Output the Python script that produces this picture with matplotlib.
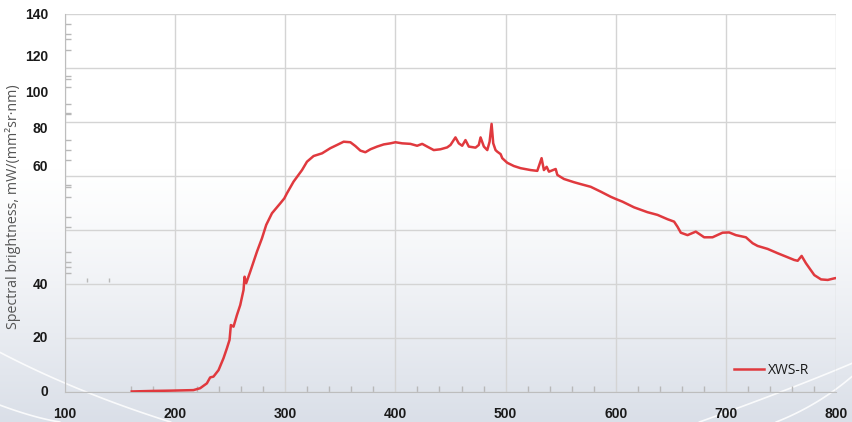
import numpy as np
import matplotlib.pyplot as plt
from matplotlib.transforms import blended_transform_factory

# spectrum (axis units: gridlines every 20)
wavelength = [160.6, 180, 195.5, 216.6, 222.7, 228.8, 231.8, 234.8, 239.4, 243.9,
              247, 249.4, 250.6, 253, 256.1, 259.1, 262.1, 263, 264.5, 268.2,
              274.3, 278.8, 282.7, 287.9, 295.5, 299.1, 301.5, 307.5, 315.2, 319.7,
              325.7, 333.4, 340.9, 347, 353, 359.1, 363.6, 368.2, 372.7, 377.3,
              383.4, 389.4, 395.5, 400, 406.1, 413.6, 419.7, 424.3, 428.8, 434.8,
              440.9, 447, 450, 454.5, 457.5, 460.6, 463.6, 466.6, 472.7, 475.7,
              477.3, 480.3, 483.4, 485.5, 487.3, 488.8, 490.9, 492.5, 495.5, 497,
              501.5, 507.5, 513.6, 522.7, 528.8, 532.7, 534.8, 537.3, 539.4, 545.5,
              547, 553, 562.1, 568.2, 577.3, 586.4, 595.5, 600.6, 606.1, 616.6,
              628.8, 637.9, 647, 653, 656.1, 659.1, 665.2, 672.7, 680.3, 687.9,
              697, 703, 709.1, 718.2, 724.3, 728.8, 737.9, 747, 756.1, 762.1,
              765.2, 768.8, 772.7, 780.3, 786.4, 792.5, 798.5, 800]
brightness = [0.2, 0.4, 0.5, 0.7, 1.4, 3.2, 5.4, 5.7, 8.1, 12.5,
              16.2, 19.3, 24.8, 24.2, 28.5, 32.2, 37.8, 42.7, 40.3, 44.6,
              52.0, 56.9, 61.9, 66.2, 69.9, 71.7, 73.6, 77.9, 82.2, 85.3,
              87.4, 88.4, 90.3, 91.5, 92.7, 92.5, 91.1, 89.4, 88.8, 89.9,
              90.9, 91.7, 92.1, 92.5, 92.1, 91.9, 91.2, 91.9, 90.9, 89.6,
              89.9, 90.6, 91.5, 94.3, 92.1, 91.2, 93.3, 90.9, 90.5, 91.5,
              94.3, 90.9, 89.6, 92.7, 99.3, 92.1, 89.6, 89.0, 88.1, 86.6,
              84.9, 83.7, 82.9, 82.2, 81.9, 86.6, 82.2, 83.4, 81.6, 82.6,
              80.4, 78.9, 77.7, 77.0, 76.0, 74.2, 72.3, 71.4, 70.5, 68.4,
              66.6, 65.6, 64.0, 63.1, 61.2, 59.0, 58.1, 59.4, 57.3, 57.3,
              59.0, 59.1, 58.1, 57.3, 55.1, 54.1, 53.0, 51.4, 49.9, 48.9,
              48.6, 50.4, 47.7, 43.3, 41.7, 41.5, 42.1, 42.2]

x_ticks = [100, 200, 300, 400, 500, 600, 700, 800]
x_minor = [160, 180, 220, 240, 260, 280, 320, 340, 360, 380, 420, 440, 460, 480,
           520, 540, 560, 580, 620, 640, 660, 680, 720, 740, 760, 780]
y_grid = [0, 20, 40, 60, 80, 100, 120, 140]
# the labels in the original sit off their gridlines
y_label_pos = [0, 19.9, 39.6, 83.4, 97.3, 110.9, 124.2, 139.6]
y_label_txt = ['0', '20', '40', '60', '80', '100', '120', '140']
y_minor = [136.2, 132.5, 130.7, 126.7, 117, 115.9, 112.9, 106.6, 103.4, 103,
           93.3, 89.7, 85.9, 76.7, 75.9, 72.3, 64.9, 61.2, 52, 48.1, 46.2, 44]

fig = plt.figure(figsize=(8.53, 4.22), dpi=100)

# background gradient with a few white swooshes
bg = fig.add_axes([0, 0, 1, 1], zorder=-10)
t = np.linspace(0, 1, 256)
ramp = np.clip((t - 0.4) / 0.6, 0, 1) ** 1.2
top = np.array([1.0, 1.0, 1.0])
bot = np.array([0.855, 0.875, 0.91])
grad = top[None, :] * (1 - ramp[:, None]) + bot[None, :] * ramp[:, None]
bg.imshow(grad[:, None, :], aspect='auto', extent=[0, 1, 0, 1], origin='upper')
for (p0, p1, p2) in [((0, 0.165), (0.09, 0.07), (0.2, 0.0)),
                     ((0, 0.04), (0.04, 0.01), (0.07, 0.0)),
                     ((0.82, 0.0), (0.93, 0.08), (1.0, 0.14)),
                     ((0.91, 0.0), (0.96, 0.04), (1.0, 0.11))]:
    s = np.linspace(0, 1, 60)[:, None]
    pts = (1 - s) ** 2 * np.array(p0) + 2 * s * (1 - s) * np.array(p1) + s ** 2 * np.array(p2)
    bg.plot(pts[:, 0], pts[:, 1], color='white', lw=1.2, alpha=0.85)
bg.set_xlim(0, 1)
bg.set_ylim(0, 1)
bg.axis('off')

ax = fig.add_axes([65 / 853, 30 / 422, 771 / 853, 378 / 422])
ax.set_facecolor('none')
ax.plot(wavelength, brightness, color='#e0393e', lw=1.8, label='XWS-R', zorder=3)

ax.set_xlim(100, 800)
ax.set_ylim(0, 140)
ax.set_xticks(x_ticks)
ax.set_xticks(x_minor, minor=True)
ax.set_yticks(y_grid)
ax.set_yticklabels([])
ax.set_yticks(y_minor, minor=True)
ax.grid(True, which='major', color='#d4d4d4', lw=1)
ax.tick_params(which='major', length=0, pad=11, labelsize=10, labelcolor='#1a1a1a')
ax.tick_params(which='minor', direction='in', length=4, color='#b8b8b8', width=1)
for lab in ax.get_xticklabels():
    lab.set_fontweight('bold')
    lab.set_family('Liberation Sans')

# stray ticks near y=41 at 120 and 140
ax.vlines([120, 140], 40.6, 42.2, color='#b8b8b8', lw=1)

trans = blended_transform_factory(ax.transAxes, ax.transData)
for pos, txt in zip(y_label_pos, y_label_txt):
    ax.text(-0.022, pos, txt, transform=trans, ha='right', va='center',
            fontsize=10, fontweight='bold', family='Liberation Sans', color='#1a1a1a')

for side in ['top', 'right']:
    ax.spines[side].set_visible(False)
for side in ['left', 'bottom']:
    ax.spines[side].set_color('#bdbdbd')

ax.text(-0.068, 0.49, 'Spectral brightness, mW/(mm²sr·nm)', transform=ax.transAxes,
        rotation=90, ha='center', va='center', fontsize=10.3, color='#555555',
        family='Open Sans')

leg = ax.legend(loc='lower right', bbox_to_anchor=(0.982, 0.005), frameon=False,
                handlelength=2.2, fontsize=10, handletextpad=0.3)
for txt in leg.get_texts():
    txt.set_family('Open Sans')
    txt.set_color('#1a1a1a')

fig.savefig('out.png', dpi=100)
